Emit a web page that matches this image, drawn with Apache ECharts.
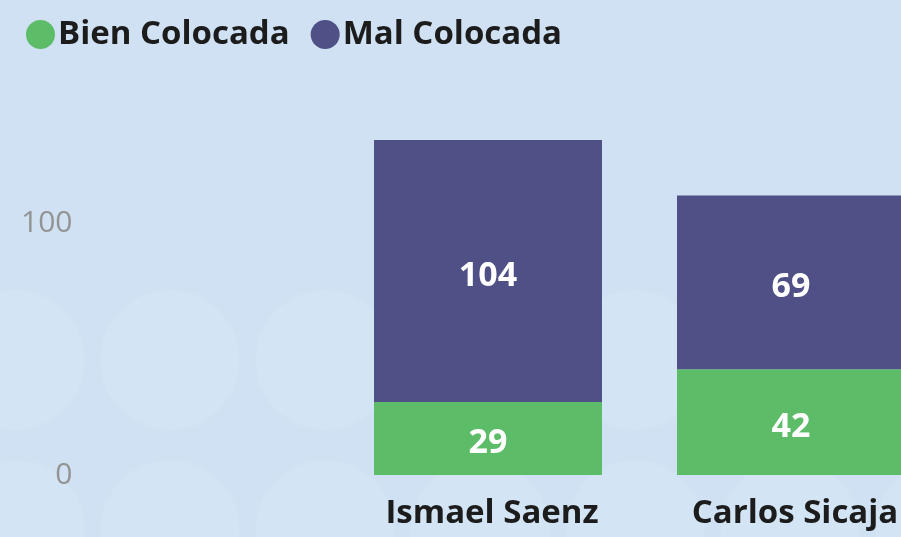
<!DOCTYPE html>
<html>
<head>
<meta charset="utf-8">
<script src="https://cdn.jsdelivr.net/npm/echarts@6/dist/echarts.min.js"></script>
<style>
  html, body { margin: 0; padding: 0; background: #cfe1f2; overflow: hidden; }
  #chart { width: 960px; height: 537px; }
</style>
</head>
<body>
<div id="chart"></div>
<script>
// Persons on the category axis
const categories = ['Ismael Saenz', 'Carlos Sicaja'];
// Stacked counts
const bienColocada = [29, 42];
const malColocada = [104, 69];
// Value-axis range and tick step
const yMin = 0;
const yMax = 160;
const yInterval = 100;

const FONT = '"Open Sans", "Noto Sans", sans-serif';

// Soft decorative circles in the backdrop
const circleCentersX = [15, 170, 325, 480, 635, 790, 945];
const circleRowsY = [360, 530];
const bgCircles = [];
circleRowsY.forEach(cy => {
  circleCentersX.forEach(cx => {
    bgCircles.push({
      type: 'circle',
      silent: true,
      z: -10,
      shape: { cx: cx, cy: cy, r: 70 },
      style: { fill: '#d3e5f4', stroke: '#d1e3f3', lineWidth: 2 }
    });
  });
});

const chart = echarts.init(document.getElementById('chart'), null, { renderer: 'canvas' });

const labelStyle = {
  show: true,
  position: 'inside',
  offset: [0, 5],
  color: '#ffffff',
  fontFamily: FONT,
  fontWeight: 'bold',
  fontSize: 34
};

chart.setOption({
  backgroundColor: '#cfe1f2',
  animation: false,
  graphic: bgCircles,
  legend: {
    left: 21,
    top: 13,
    icon: 'circle',
    itemWidth: 31,
    itemHeight: 29,
    itemGap: 21,
    textStyle: {
      fontFamily: FONT,
      fontWeight: 'bold',
      fontSize: 33,
      color: '#1c1c1c',
      padding: [0, 0, 0, -3]
    },
    data: ['Bien Colocada', 'Mal Colocada']
  },
  grid: {
    left: 336.5,
    width: 606,
    top: 72,
    height: 403,
    containLabel: false
  },
  xAxis: {
    type: 'category',
    data: categories,
    axisLine: { show: false },
    axisTick: { show: false },
    axisLabel: {
      margin: 22,
      fontFamily: FONT,
      fontWeight: 'bold',
      fontSize: 33,
      color: '#1c1c1c',
      padding: [0, 0, 0, 8]
    }
  },
  yAxis: {
    type: 'value',
    min: yMin,
    max: yMax,
    interval: yInterval,
    splitLine: { show: false },
    axisLine: { show: false },
    axisTick: { show: false },
    axisLabel: {
      margin: 264,
      fontFamily: FONT,
      fontSize: 30,
      color: '#939393',
      showMaxLabel: false
    }
  },
  series: [
    {
      name: 'Bien Colocada',
      type: 'bar',
      stack: 'total',
      barWidth: 228,
      data: bienColocada,
      itemStyle: { color: '#5dbc68' },
      label: labelStyle
    },
    {
      name: 'Mal Colocada',
      type: 'bar',
      stack: 'total',
      barWidth: 228,
      data: malColocada,
      itemStyle: { color: '#4e5086' },
      label: labelStyle
    }
  ]
});
</script>
</body>
</html>
